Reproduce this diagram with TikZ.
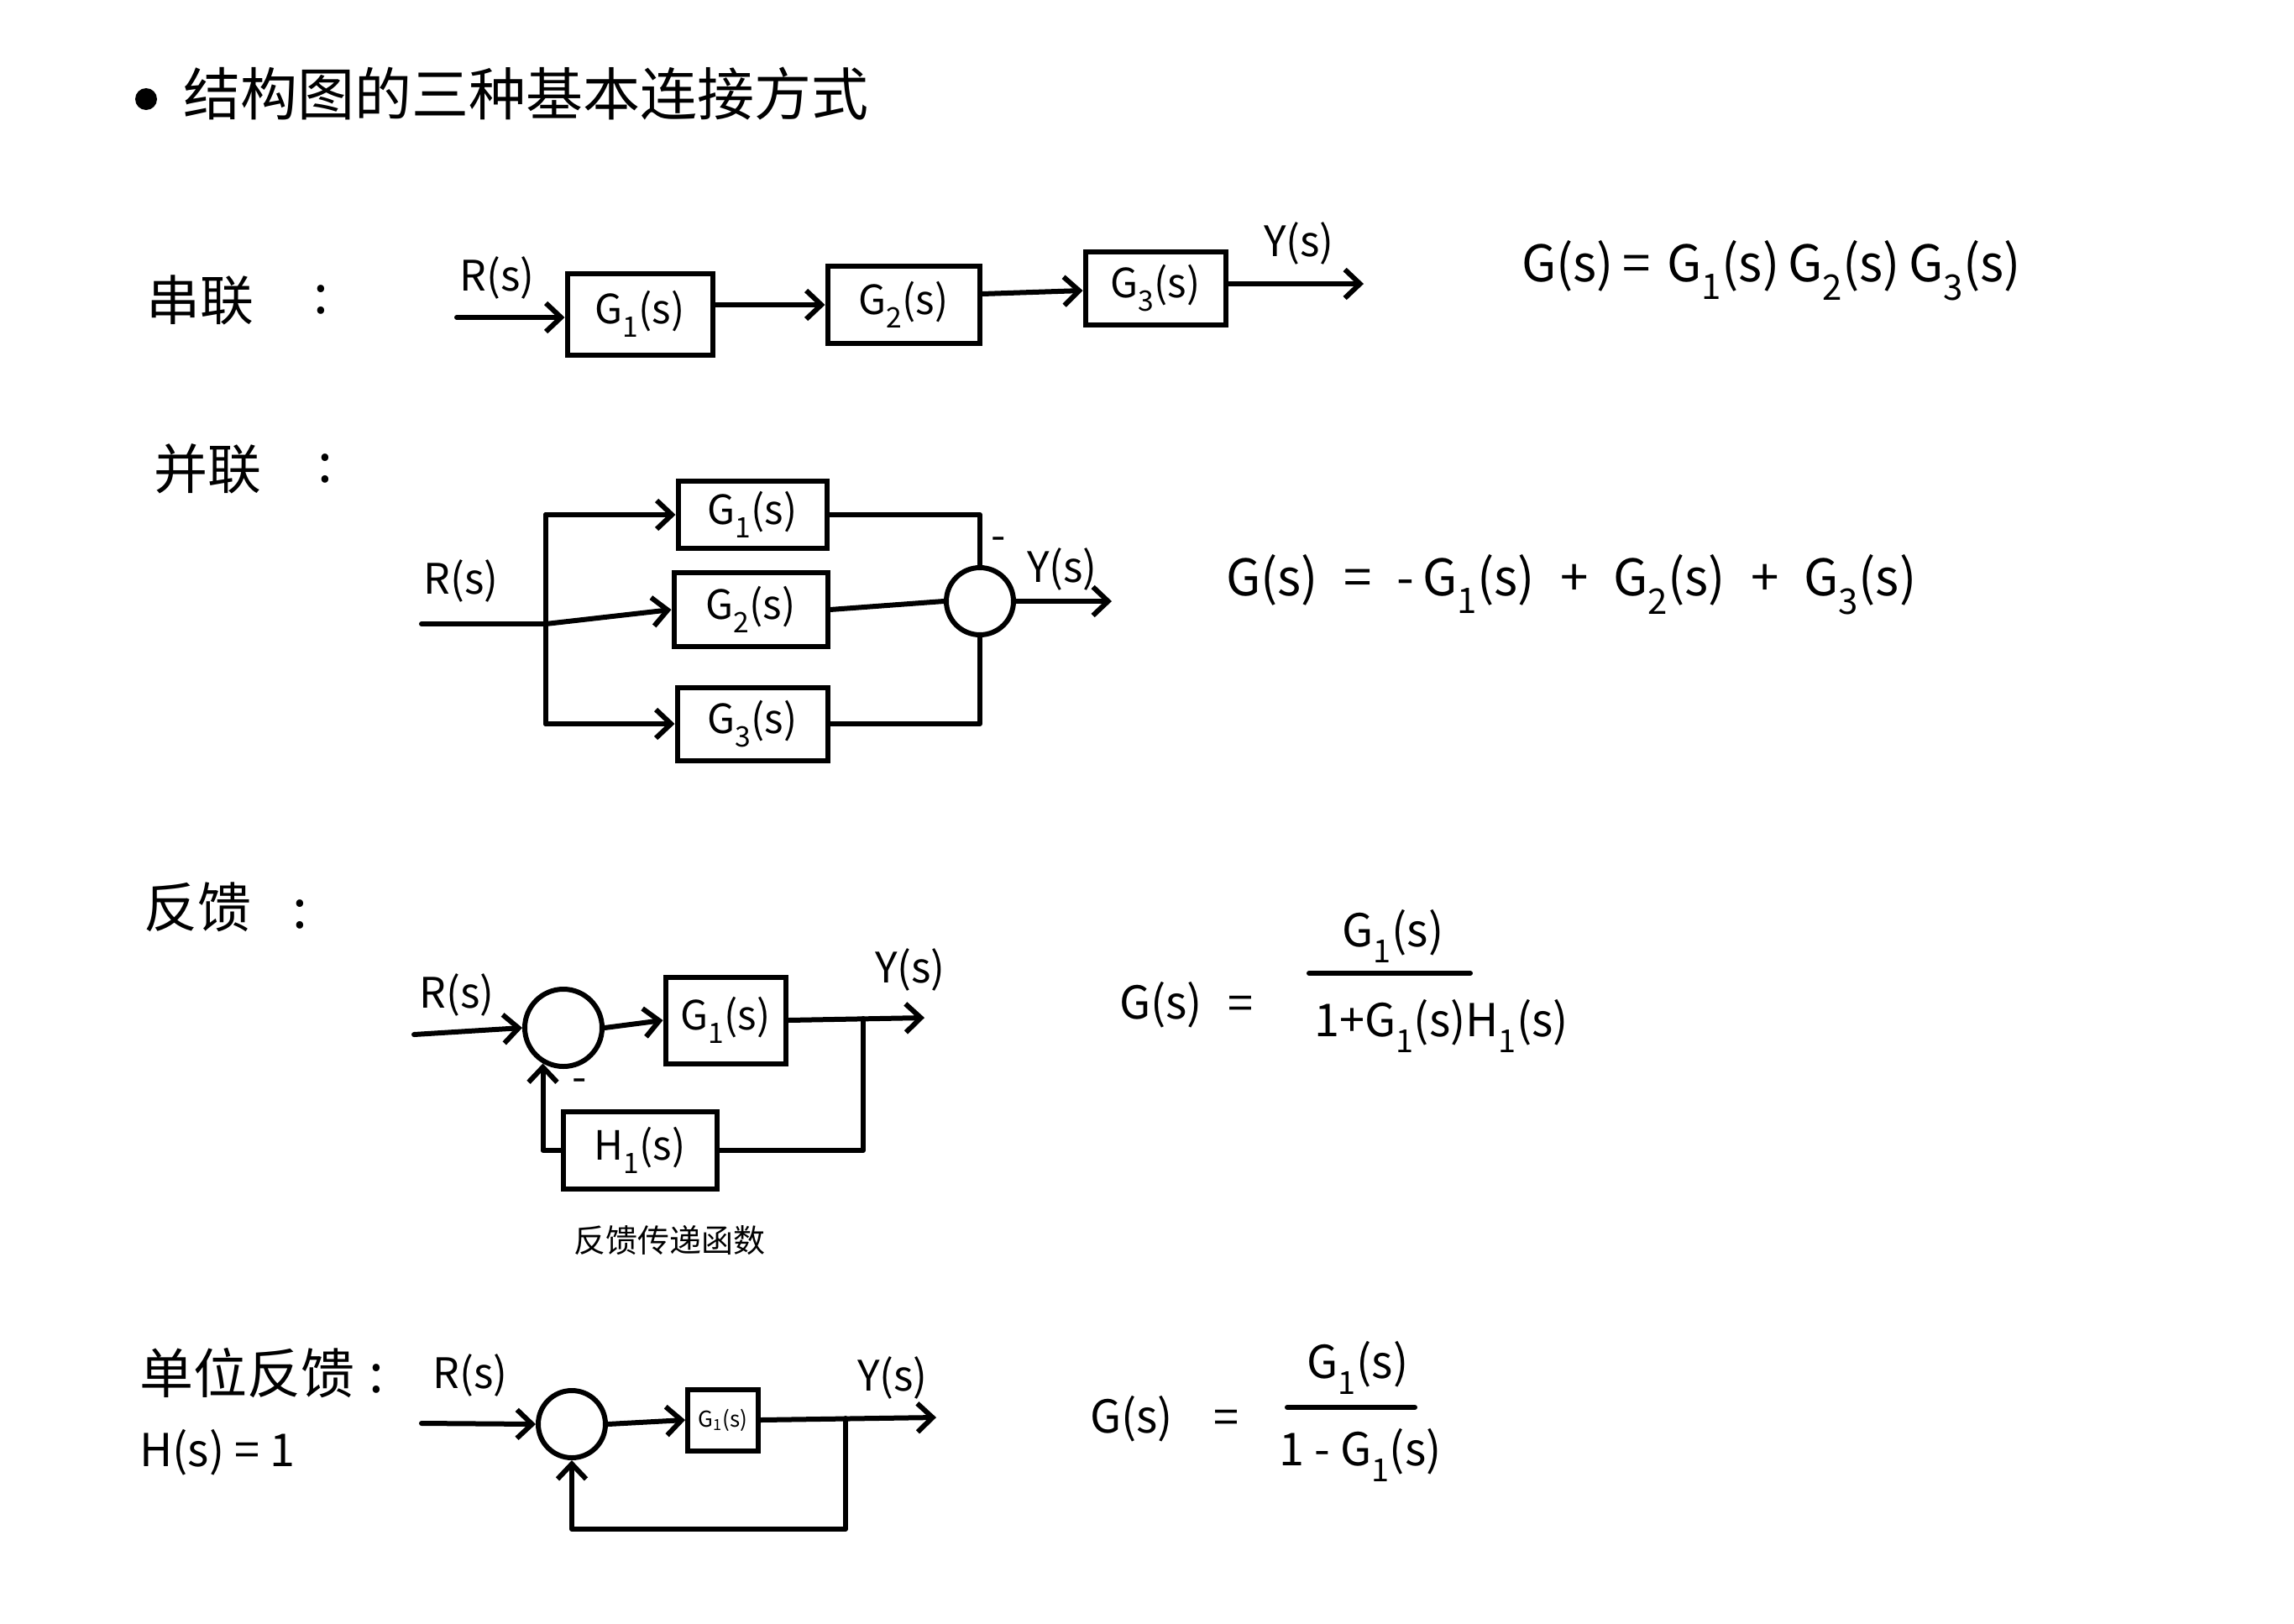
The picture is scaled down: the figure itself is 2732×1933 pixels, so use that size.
\documentclass[tikz,border=0pt]{standalone}
\usepackage{fontspec}
\setmainfont{Noto Sans CJK SC}
\usetikzlibrary{arrows.meta}
\newcommand\Gi[2][G]{#1\textsubscript{#2}(s)}
\begin{document}
\begin{tikzpicture}[x=1pt,y=-1pt,
  ln/.style={line width=6pt, line cap=round, line join=round},
  arr/.style={ln, -{Straight Barb[length=18pt,width=34pt,line width=6pt]}},
  blk/.style={draw, line width=6pt, inner sep=0pt, font=\fontsize{48}{56}\selectfont},
  sumj/.style={draw, circle, line width=6pt, inner sep=0pt, minimum size=#1},
  lbl/.style={inner sep=0pt, font=\fontsize{50}{58}\selectfont},
  frm/.style={inner sep=0pt, font=\fontsize{54}{62}\selectfont},
  bigfrm/.style={inner sep=0pt, font=\fontsize{60}{68}\selectfont, anchor=west},
  head/.style={inner sep=0pt, font=\fontsize{64}{72}\selectfont, anchor=west},
  title/.style={inner sep=0pt, font=\fontsize{68}{78}\selectfont, anchor=west}
]
\useasboundingbox (0,0) rectangle (2732,1933);
\fill[white] (0,0) rectangle (2732,1933);

% title
\fill (174,118) circle (13pt);
\node[title] (title) at (218,112) {结构图的三种基本连接方式};

% ---------- series ----------
\node[head] (hser) at (174,357) {串联};
\node[head, anchor=center] (cser) at (382,357) {:};
\node[lbl] (rser) at (592,331) {R(s)};
\coordinate (rin1) at (544,378);
\node[blk, minimum width=173pt, minimum height=97pt] (s1) at (762,374) {\Gi{1}};
\node[blk, minimum width=181pt, minimum height=92pt] (s2) at (1076,363) {\Gi{2}};
\node[blk, minimum width=167pt, minimum height=87pt] (s3) at (1376,343) {\Gi{3}};
\coordinate (yout1) at (1624,338);
\node[lbl] (yser) at (1547,290) {Y(s)};
\draw[arr] (rin1) -- (s1.west |- rin1);
\draw[arr] (s1.east |- s2.west) -- (s2.west);
\draw[arr] (s2.east |- 0,350) -- (s3.west |- 0,346);
\draw[arr] (s3.east |- yout1) -- (yout1);
\node[bigfrm] (fser) at (1812,322) {G(s)\,=\,\,\Gi{1}\,\Gi{2}\,\Gi{3}};

% ---------- parallel ----------
\node[head] (hpar) at (183,558) {并联};
\node[head, anchor=center] (cpar) at (387,558) {:};
\node[lbl] (rpar) at (549,692) {R(s)};
\coordinate (pin) at (502,743);
\coordinate (pj) at (650,743);
\coordinate (pt1) at (650,613);
\coordinate (pt3) at (650,862);
\node[blk, minimum width=177pt, minimum height=80pt] (p1) at (896,613) {\Gi{1}};
\node[blk, minimum width=183pt, minimum height=88pt] (p2) at (894,726) {\Gi{2}};
\node[blk, minimum width=179pt, minimum height=87pt] (p3) at (896,862) {\Gi{3}};
\node[sumj=80pt] (ps) at (1167,716) {};
\draw[ln] (pin) -- (pj);
\draw[ln] (pt1) -- (pt3);
\draw[arr] (pt1) -- (p1.west);
\draw[arr] (pj) -- (p2.west);
\draw[arr] (pt3) -- (p3.west);
\draw[ln] (p1.east) -| (ps.north);
\draw[ln] (p2.east) -- (ps.west);
\draw[ln] (p3.east) -| (ps.south);
\coordinate (yout2) at (1324,716);
\draw[arr] (ps.east) -- (yout2);
\node[lbl] (mpar) at (1189,648) {-};
\node[lbl] (ypar) at (1265,678) {Y(s)};
\node[bigfrm] (fpar) at (1460,696) {G(s)\enspace=\enspace-\,\Gi{1}\enspace+\enspace\Gi{2}\enspace+\enspace\Gi{3}};

% ---------- feedback ----------
\node[head] (hfb) at (171,1080) {反馈};
\node[head, anchor=center] (cfb) at (357,1089) {:};
\node[lbl] (rfb) at (544,1185) {R(s)};
\coordinate (rin3) at (493,1232);
\node[sumj=92pt] (fs) at (671,1224) {};
\node[blk, minimum width=143pt, minimum height=103pt] (fg) at (864,1215) {\Gi{1}};
\node[blk, minimum width=183pt, minimum height=92pt] (fh) at (762,1370) {\Gi[H]{1}};
\coordinate (yout3) at (1101,1212);
\coordinate (b3) at (1028,1213);
\draw[arr] (rin3) -- (fs.west);
\draw[arr] (fs.east) -- (fg.west);
\draw[arr] (fg.east) -- (yout3);
\draw[ln] (b3) |- (fh.east);
\draw[arr] (fh.west) -| (fs.240);
\node[lbl] (mfb) at (690,1293) {-};
\node[lbl] (yfb) at (1084,1155) {Y(s)};
\node[inner sep=0pt, font=\fontsize{38}{44}\selectfont] (cap) at (797,1477) {反馈传递函数};
\node[frm, anchor=west] (fgl) at (1333,1197) {G(s)};
\node[frm] (feq) at (1477,1200) {=};
\node[frm] (fnum) at (1659,1115) {\Gi{1}};
\coordinate (bar3a) at (1559,1159);
\coordinate (bar3b) at (1751,1159);
\draw[ln] (bar3a) -- (bar3b);
\node[frm, anchor=west] (fden) at (1565,1222) {1+\Gi{1}\Gi[H]{1}};

% ---------- unit feedback ----------
\node[head] (hufb) at (166,1635) {单位反馈};
\node[head, anchor=center] (cufb) at (448,1642) {:};
\node[frm, anchor=west] (hone) at (166,1730) {H(s) = 1};
\node[lbl] (rufb) at (560,1638) {R(s)};
\coordinate (rin4) at (502,1695);
\node[sumj=80pt] (us) at (681,1696) {};
\node[blk, minimum width=84pt, minimum height=73pt, font=\fontsize{26}{30}\selectfont] (ug) at (861,1691) {\Gi{1}};
\coordinate (yout4) at (1115,1688);
\coordinate (b4) at (1007,1689);
\coordinate (c4) at (1007,1821);
\draw[arr] (rin4) -- (us.west);
\draw[arr] (us.east) -- (ug.west);
\draw[arr] (ug.east) -- (yout4);
\draw[arr] (b4) -- (c4) -| (us.south);
\node[lbl] (yufb) at (1063,1641) {Y(s)};
\node[frm, anchor=west] (ugl) at (1298,1690) {G(s)};
\node[frm] (ueq) at (1460,1693) {=};
\node[frm] (unum) at (1617,1629) {\Gi{1}};
\coordinate (bar4a) at (1533,1676);
\coordinate (bar4b) at (1685,1676);
\draw[ln] (bar4a) -- (bar4b);
\node[frm] (uden) at (1620,1733) {1 - \Gi{1}};
\end{tikzpicture}
\end{document}
